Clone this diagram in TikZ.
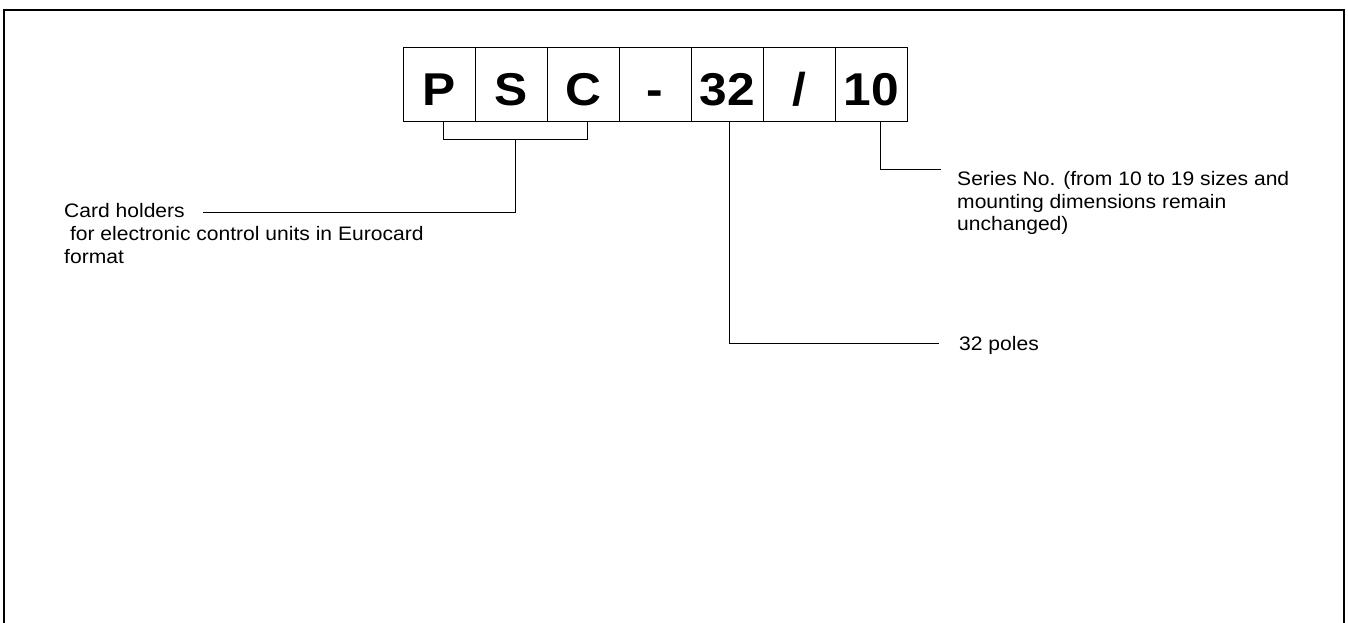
\documentclass[tikz,border=0pt]{standalone}
\usepackage{fontspec}
\setmainfont[FakeStretch=1.08]{Liberation Sans}
\usetikzlibrary{positioning,calc}
\newcommand{\bigLetter}[0]{\fontsize{46}{50}\selectfont\bfseries}
\newcommand{\noteFont}[0]{\fontsize{19.5}{22.7}\selectfont}

\begin{document}
\begin{tikzpicture}[x=1pt, y=-1pt]
  \tikzset{cell/.style={draw, line width=0.8pt, minimum width=72pt, minimum height=74pt,
      inner sep=0pt, outer sep=0pt, text height=44pt, text depth=0pt, font=\bigLetter},
    note/.style={anchor=north west, inner sep=0pt, align=left, font=\noteFont},
    lead/.style={line width=0.9pt}}
  \useasboundingbox (0,0) rectangle (1348,623);
  \draw[line width=1.5pt] (4,623) -- (4,10) -- (1344,10) -- (1344,623);
  \foreach \t [count=\i] in {P,S,C,-,32,/,10}
    \node[cell] (c\i) at ({403+72*(\i-1)+36},84) {\t};
  \node[note] (card) at (64,203.5) {Card holders\\~for electronic control units in Eurocard\\format};
  \node[note] (series) at (957,171) {Series No. (from 10 to 19 sizes and\\mounting dimensions remain\\unchanged)};
  \node[note] (poles) at (959,336) {32 poles};
  \coordinate (cardend) at (203,212);
  \coordinate (seriesend) at (941,169);
  \coordinate (polesend) at (939,343);
  \draw[lead] ($(c1.south)+(4,0)$) -- ++(0,18) coordinate (bl) -| ($(c3.south)+(4,0)$);
  \draw[lead] ($(bl)!0.5!(c3.south |- bl)+(2,0)$) |- (cardend);
  \draw[lead] ($(c5.south)+(2.5,0)$) |- (polesend);
  \draw[lead] ($(c7.south)+(9,0)$) |- (seriesend);
\end{tikzpicture}
\end{document}
